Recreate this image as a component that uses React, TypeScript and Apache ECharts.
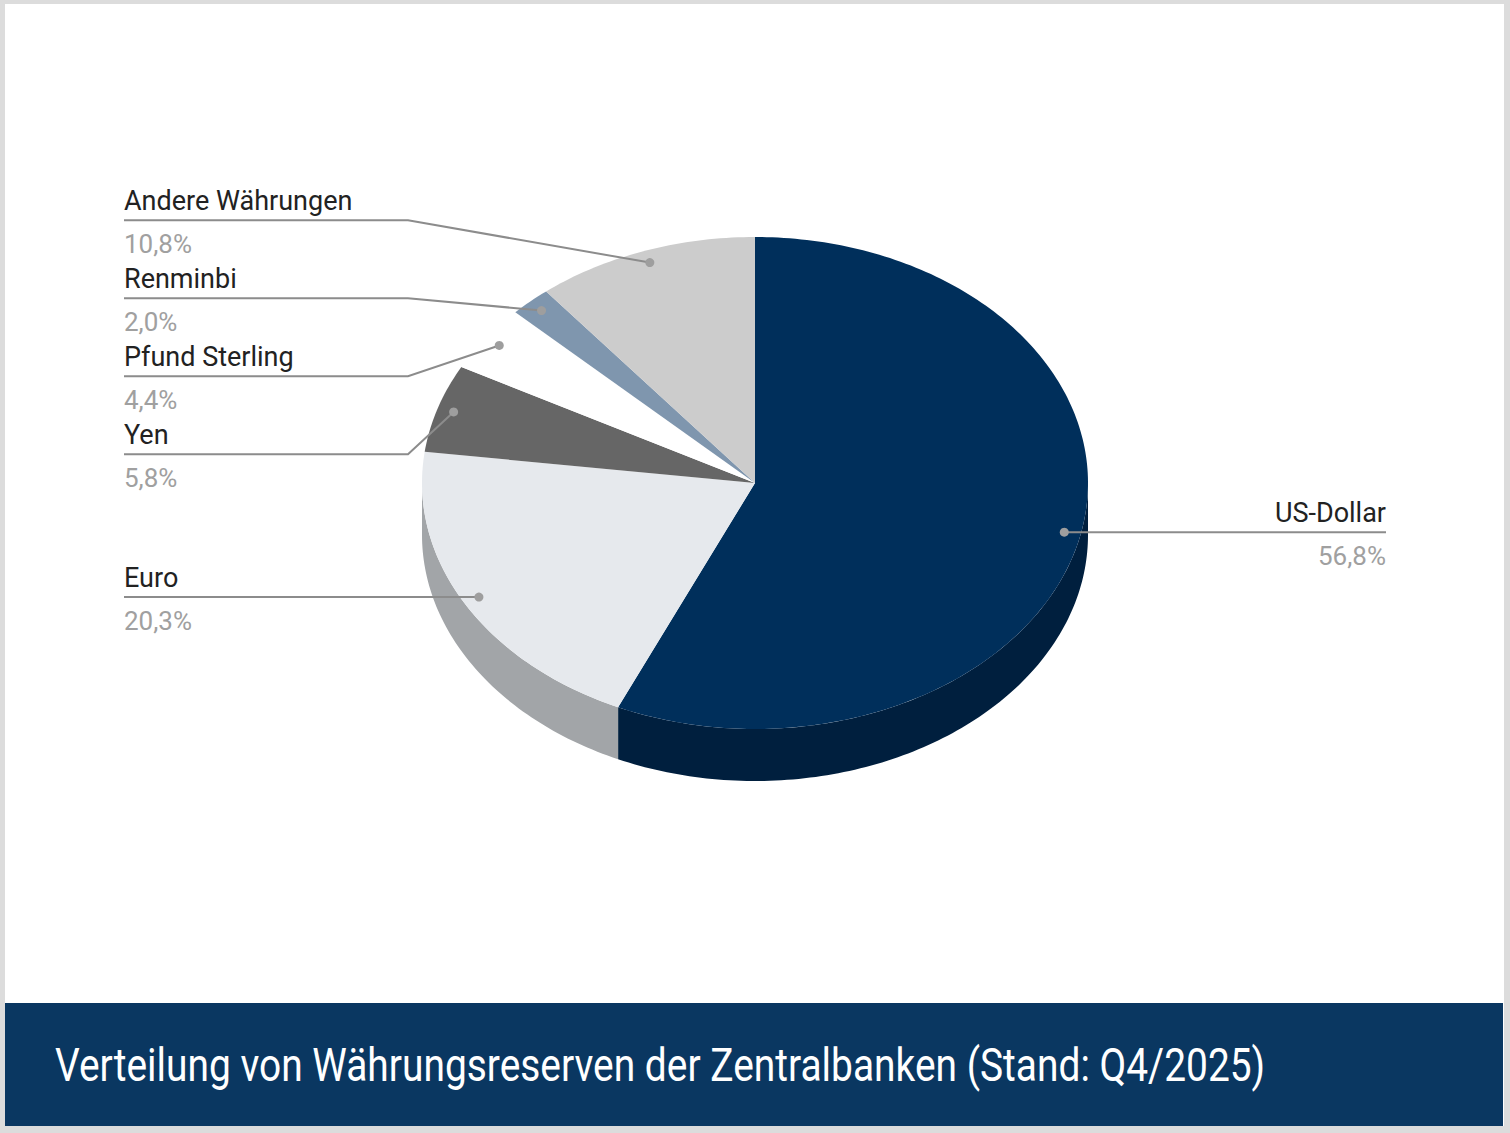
import React, { useEffect, useRef } from 'react';
import * as echarts from 'echarts';

// Anteile in Prozent, Reihenfolge im Uhrzeigersinn ab 12 Uhr
const currencies = ['US-Dollar', 'Euro', 'Yen', 'Pfund Sterling', 'Renminbi', 'Andere Währungen'];
const shares = [56.8, 20.3, 5.8, 4.4, 2.0, 10.8];
const title = 'Verteilung von Währungsreserven der Zentralbanken (Stand: Q4/2025)';

const topColors = ['#002f5b', '#e6e9ed', '#666666', '#ffffff', '#7f96ae', '#cccccc'];
const sideColors = ['#001f3e', '#a2a5a8', '#4a4a4a', '#e0e0e0', '#5d7088', '#9a9a9a'];

const CX = 755;
const CY = 483;
const RX = 333;
const RY = 246;
const DEPTH = 52;
const LABEL_EDGE = 631;
const LABEL_STEP = 78;
const DOT_R = 0.95;

const total = shares.reduce((a, b) => a + b, 0);
const starts: number[] = [];
const ends: number[] = [];
let acc = 0;
shares.forEach((v) => {
  starts.push((acc / total) * 360);
  acc += v;
  ends.push((acc / total) * 360);
});

const pt = (deg: number, f = 1, dy = 0) => {
  const r = (deg * Math.PI) / 180;
  return [CX + RX * f * Math.sin(r), CY - RY * f * Math.cos(r) + dy];
};

const arc = (a0: number, a1: number, dy = 0) => {
  const pts: number[][] = [];
  const n = Math.max(2, Math.ceil(Math.abs(a1 - a0)));
  for (let k = 0; k <= n; k++) pts.push(pt(a0 + ((a1 - a0) * k) / n, 1, dy));
  return pts;
};

const dots = shares.map((_, i) => pt((starts[i] + ends[i]) / 2, DOT_R));

// labels: spread out overlapping ones around the middle of their anchors
const layoutSide = (idx: number[]) => {
  const sorted = idx.slice().sort((a, b) => dots[a][1] - dots[b][1]);
  const mid = (m: number[]) => (dots[m[0]][1] + dots[m[m.length - 1]][1]) / 2;
  let clusters = sorted.map((i) => ({ members: [i], center: dots[i][1] }));
  let merged = true;
  while (merged) {
    merged = false;
    for (let k = 0; k < clusters.length - 1; k++) {
      const a = clusters[k];
      const b = clusters[k + 1];
      const aBottom = a.center + ((a.members.length - 1) * LABEL_STEP) / 2;
      const bTop = b.center - ((b.members.length - 1) * LABEL_STEP) / 2;
      if (bTop - aBottom < LABEL_STEP) {
        const members = a.members.concat(b.members);
        clusters.splice(k, 2, { members, center: mid(members) });
        merged = true;
        break;
      }
    }
  }
  const ys: Record<number, number> = {};
  clusters.forEach((c) => {
    const top = c.center - ((c.members.length - 1) * LABEL_STEP) / 2;
    c.members.forEach((m, j) => (ys[m] = top + j * LABEL_STEP));
  });
  return ys;
};

const leftIdx = shares.map((_, i) => i).filter((i) => dots[i][0] < CX);
const rightIdx = shares.map((_, i) => i).filter((i) => dots[i][0] >= CX);
const lineYs = { ...layoutSide(leftIdx), ...layoutSide(rightIdx) };

const fmt = (v: number) => v.toFixed(1).replace('.', ',') + '%';

const PieChart3D = () => {
  const chartRef = useRef<any>(null);

  useEffect(() => {
    document.body.style.margin = '0';
    const chart = echarts.init(chartRef.current, null, { renderer: 'svg' });

    const renderItem = (params: any) => {
      const i = params.dataIndex;
      const a0 = starts[i];
      const a1 = ends[i];
      const children: any[] = [];

      // visible side wall (front half only)
      const s = Math.max(a0, 90);
      const e = Math.min(a1, 270);
      if (e > s) {
        const pts = arc(s, e).concat(arc(e, s, DEPTH));
        children.push({ type: 'polygon', shape: { points: pts }, style: { fill: sideColors[i] }, z2: 1 });
      }

      const top = [[CX, CY]].concat(arc(a0, a1));
      children.push({ type: 'polygon', shape: { points: top }, style: { fill: topColors[i] }, z2: 2 });

      const [dx, dy] = dots[i];
      const left = dx < CX;
      const ly = lineYs[i];
      const elbowX = left ? CX - RX - 14 : CX + RX + 14;
      const endX = left ? CX - LABEL_EDGE : CX + LABEL_EDGE;
      const linePts = left ? [[dx, dy], [elbowX, ly], [endX, ly]] : [[dx, dy], [Math.max(dx, elbowX), ly], [endX, ly]];
      children.push({
        type: 'polyline',
        shape: { points: linePts },
        style: { stroke: '#8c8c8c', lineWidth: 2, fill: 'none' },
        z2: 10,
      });
      children.push({ type: 'circle', shape: { cx: dx, cy: dy, r: 4.5 }, style: { fill: '#9e9e9e' }, z2: 11 });
      children.push({
        type: 'text',
        style: {
          text: currencies[i],
          x: endX,
          y: ly - 19,
          fill: '#222222',
          fontSize: 27,
          fontFamily: 'Roboto',
          align: left ? 'left' : 'right',
          verticalAlign: 'middle',
        },
        z2: 12,
      });
      children.push({
        type: 'text',
        style: {
          text: fmt(shares[i]),
          x: endX,
          y: ly + 24,
          fill: '#a0a0a0',
          fontSize: 26,
          fontFamily: 'Roboto',
          align: left ? 'left' : 'right',
          verticalAlign: 'middle',
        },
        z2: 12,
      });
      return { type: 'group', children };
    };

    const option: any = {
      animation: false,
      backgroundColor: '#dcdcdc',
      graphic: [
        { type: 'rect', shape: { x: 5, y: 4, width: 1499, height: 1122 }, style: { fill: '#ffffff' }, z: -10 },
        { type: 'rect', shape: { x: 5, y: 1003, width: 1498, height: 123 }, style: { fill: '#0a3761' }, z: -9 },
        {
          type: 'text',
          x: 55,
          y: 1065,
          scaleX: 0.846,
          style: {
            text: title,
            fill: '#ffffff',
            fontSize: 46,
            fontFamily: 'Roboto',
            align: 'left',
            verticalAlign: 'middle',
          },
          z: 5,
        },
      ],
      series: [
        {
          type: 'custom',
          coordinateSystem: 'none',
          renderItem,
          data: shares.map((v, i) => ({ name: currencies[i], value: [v] })),
        },
      ],
    };

    chart.setOption(option);

    return () => {
      chart.dispose();
    };
  }, []);

  return <div ref={chartRef} style={{ width: '1510px', height: '1133px' }} />;
};

export default function App() {
  return <PieChart3D />;
}
